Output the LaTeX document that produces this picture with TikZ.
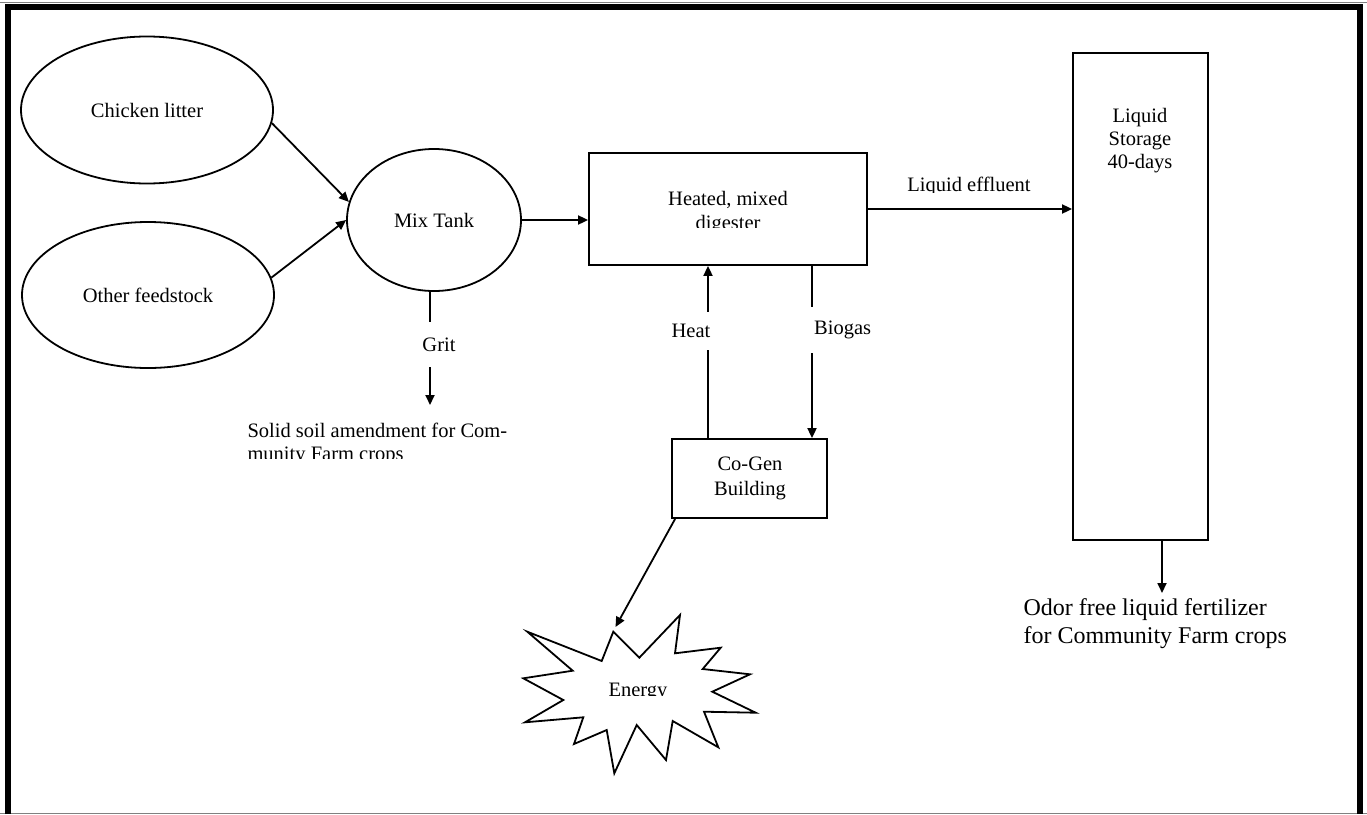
\documentclass[tikz,border=0pt]{standalone}
\usepackage{fontspec}
\setmainfont{Liberation Serif}
\usetikzlibrary{shapes.geometric,arrows.meta}
\begin{document}
\begin{tikzpicture}[x=1pt,y=-1pt,
  ln/.style={line width=1.8pt},
  arr/.style={ln,-{Triangle[length=10pt,width=9pt]}},
  ell/.style={draw,ln,ellipse,inner sep=0pt},
  boxed/.style={draw,ln,rectangle,inner sep=0pt},
  sm/.style={font=\fontsize{20.5}{23.6}\selectfont},
  big/.style={font=\fontsize{24}{28}\selectfont},
  lbl/.style={sm,fill=white,inner sep=0pt}]
\useasboundingbox (0,0) rectangle (1367,814);
% frame
\draw[gray,line width=1pt] (0,2.5) -- (1367,2.5);
\draw[gray,line width=1pt] (0,813) -- (1367,813);
\draw[line width=6pt] (8,814) -- (8,7) -- (1360,7) -- (1360,814);
% feedstocks
\node[ell,sm,minimum width=252,minimum height=147] (cl) at (147,110) {Chicken litter};
\node[ell,sm,minimum width=252,minimum height=146] (of) at (148,295) {Other feedstock};
\node[ell,sm,minimum width=174,minimum height=142] (mix) at (434,220) {Mix Tank};
\draw[arr] (cl.-6) -- (mix.168);
\draw[arr] (of.8) -- (mix.180);
% digester
\node[boxed,minimum width=278,minimum height=112] (dig) at (728,209) {};
\node[sm,anchor=base] (dig1) at (728,205) {Heated, mixed};
\begin{scope}
\clip (590,150) rectangle (866,227);
\node[sm,anchor=base] (dig2) at (728,229) {digester};
\end{scope}
\draw[arr] (mix.east) -- (mix.east -| dig.west);
% storage
\node[boxed,minimum width=135,minimum height=487] (st) at (1140.5,296.5) {};
\node[sm,anchor=base] (st1) at (1140,122) {Liquid};
\node[sm,anchor=base] (st2) at (1140,145) {Storage};
\node[sm,anchor=base] (st3) at (1140,168) {40-days};
\draw[arr] (dig.east) -- (dig.east -| st.west);
\begin{scope}
\clip (870,150) rectangle (1070,192.5);
\node[sm,anchor=base] (eff) at (969,191) {Liquid effluent};
\end{scope}
\coordinate (odtop) at (1162,593);
\draw[arr] (st.south -| odtop) -- (odtop);
\node[big,anchor=base west] (od1) at (1020,615) {Odor free liquid fertilizer};
\node[big,anchor=base west] (od2) at (1020,643) {for Community Farm crops};
% grit
\coordinate (gritend) at (429,405);
\draw[arr] ([xshift=-4pt]mix.south) -- ([xshift=-4pt]mix.south |- gritend);
\node[lbl,minimum height=45,inner xsep=2pt] (grit) at (439,344.5) {Grit};
\node[sm,anchor=base west] (sol1) at (244,437) {Solid soil amendment for Com-};
\begin{scope}
\clip (240,440) rectangle (520,458);
\node[sm,anchor=base west] (sol2) at (244,460) {munity Farm crops};
\end{scope}
% co-gen
\node[boxed,minimum width=155,minimum height=79] (cg) at (749.5,478.5) {};
\node[sm,anchor=base] (cg1) at (750,470) {Co-Gen};
\node[sm,anchor=base] (cg2) at (750,495) {Building};
\draw[arr] ([xshift=-41.5pt]cg.north) -- ([xshift=-41.5pt]cg.north |- dig.south);
\draw[arr] ([xshift=62.5pt]cg.north |- dig.south) -- ([xshift=62.5pt]cg.north);
\node[lbl,anchor=east,minimum height=38] (heat) at (710.5,331) {Heat};
\node[lbl,anchor=west,minimum height=46,inner xsep=8pt] (bio) at (806,330) {Biogas};
% energy burst
\draw[ln,line join=miter] (613.3,631.7) -- (639.3,657.7) -- (680,615) -- (675,653.3) -- (720.7,647.7) -- (702.7,669) -- (750,674.3) -- (712.3,691.7) -- (755.7,712.7) -- (704,711.7) -- (718.3,747.3) -- (672.7,721) -- (666,760) -- (636.7,725) -- (614.3,773.3) -- (606.7,730) -- (574,744) -- (583.3,717.3) -- (525,722.3) -- (563.3,700) -- (523.3,678.3) -- (572.7,670.7) -- (527.3,631.7) -- (601.7,661) -- cycle;
\coordinate (bursttop) at (615.5,627);
\draw[arr] ([xshift=4pt]cg.south west) -- (bursttop);
\begin{scope}
\clip (590,670) rectangle (690,695);
\node[sm,anchor=base] (en) at (638,696) {Energy};
\end{scope}
\end{tikzpicture}
\end{document}
